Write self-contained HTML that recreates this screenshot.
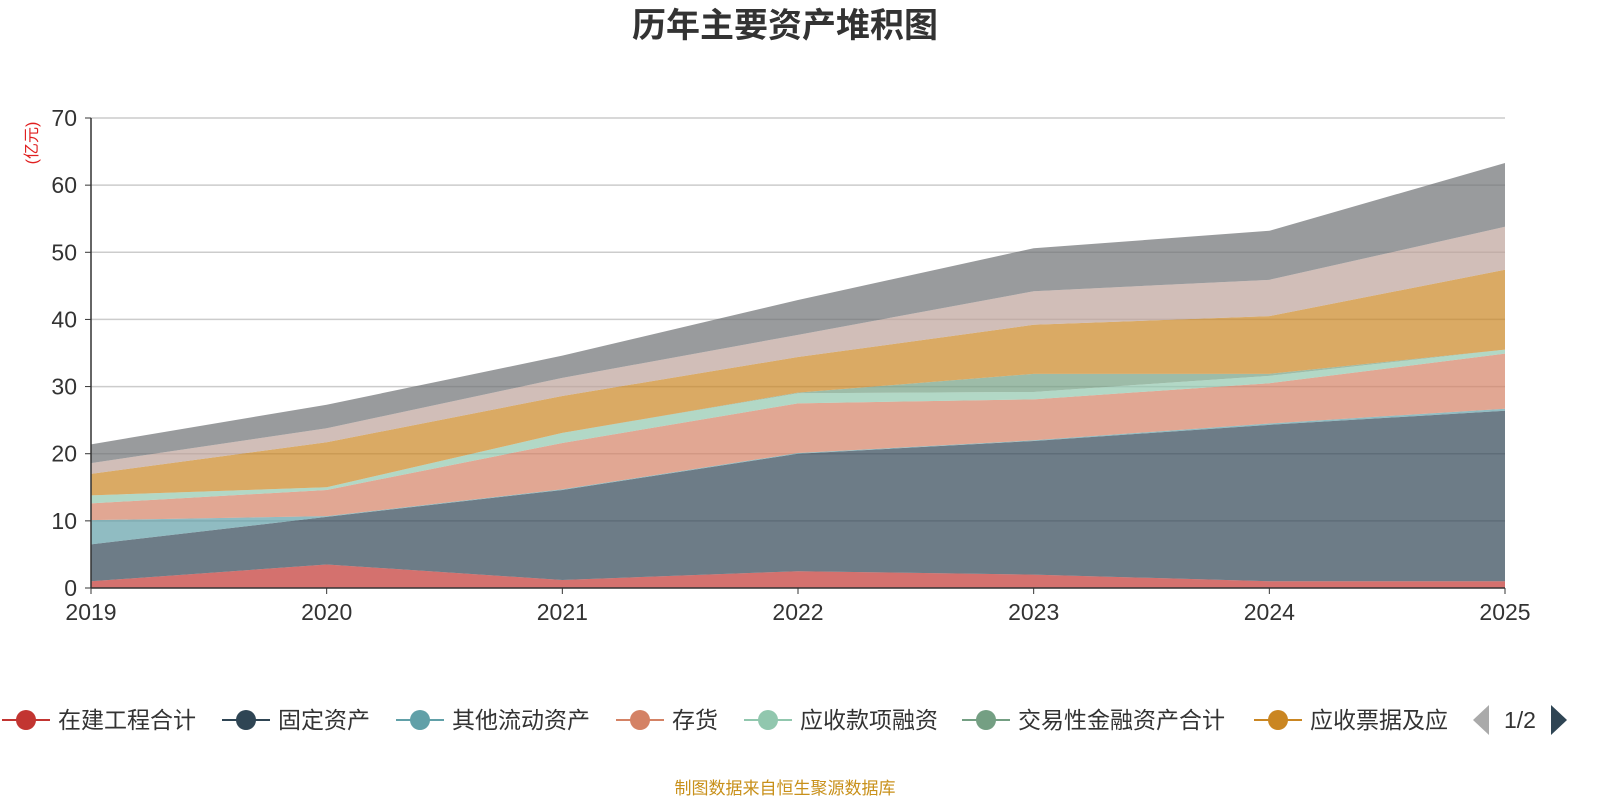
<!DOCTYPE html>
<html><head><meta charset="utf-8">
<style>
body{margin:0;background:#fff;width:1600px;height:800px;overflow:hidden;font-family:"Liberation Sans","Noto Sans CJK SC",sans-serif;}
svg text{font-family:"Liberation Sans","Noto Sans CJK SC",sans-serif;}
</style></head>
<body>
<svg id="chart" width="1600" height="800">
<text x="785" y="37" text-anchor="middle" font-size="34" font-weight="bold" fill="#333">历年主要资产堆积图</text>
<text transform="translate(37,143) rotate(-90)" text-anchor="middle" font-size="16" fill="#e02020">(亿元)</text>
<g id="grid"></g><g id="areas"></g><g id="axes"></g><g id="legend"></g>
<text x="785" y="794" text-anchor="middle" font-size="17" fill="#c8901a">制图数据来自恒生聚源数据库</text>
</svg>
<script>
const years=['2019','2020','2021','2022','2023','2024','2025'];
const yTicks=[0,10,20,30,40,50,60,70];
const seriesNames=['在建工程合计','固定资产','其他流动资产','存货','应收款项融资','交易性金融资产合计','应收票据及应','应收账款','货币资金'];
const sConstruction=[1.0,3.5,1.2,2.5,2.0,1.0,1.0];
const sFixed=[5.5,7.1,13.4,17.5,19.9,23.3,25.4];
const sOtherCurrent=[3.6,0.1,0.1,0.1,0.1,0.2,0.3];
const sInventory=[2.5,3.9,6.9,7.4,6.1,6.0,8.2];
const sRecFinancing=[1.2,0.4,1.5,1.5,1.1,1.1,0.6];
const sTrading=[0,0,0,0.1,2.7,0.3,0];
const sNotes=[3.2,6.7,5.5,5.3,7.3,8.6,11.9];
const sReceivable=[1.6,2.1,2.7,3.3,5.0,5.4,6.4];
const sCash=[2.8,3.5,3.3,5.2,6.4,7.3,9.5];
const allSeries=[sConstruction,sFixed,sOtherCurrent,sInventory,sRecFinancing,sTrading,sNotes,sReceivable,sCash];
const colors=['#c23531','#2f4554','#61a0a8','#d48265','#91c7ae','#749f83','#ca8622','#bda29a','#6e7074'];
const NS='http://www.w3.org/2000/svg';
const X0=91,X1=1505,Y0=588,Y1=118,YMAX=70;
const xS=i=>X0+(X1-X0)*i/(years.length-1);
const yS=v=>Y0-(Y0-Y1)*v/YMAX;
function mk(tag,attrs,parent){const e=document.createElementNS(NS,tag);for(const k in attrs)e.setAttribute(k,attrs[k]);parent.appendChild(e);return e;}
const grid=document.getElementById('grid'),axes=document.getElementById('axes'),areas=document.getElementById('areas'),legend=document.getElementById('legend');
yTicks.forEach(t=>{
 if(t>0){const l=mk('line',{x1:X0,x2:X1,y1:yS(t),y2:yS(t),stroke:'#ccc','stroke-width':1.5},grid);
 
 }
 const tk=mk('line',{x1:X0-6,x2:X0,y1:yS(t),y2:yS(t),stroke:'#333'},axes);
 
 
 const tx=mk('text',{x:X0-14,y:yS(t)+8,'text-anchor':'end','font-size':23,fill:'#333'},axes);tx.textContent=t;
 
 
});
let base=years.map(()=>0);
allSeries.forEach((s,si)=>{
 const top=base.map((b,i)=>b+s[i]);
 let d='M'+years.map((y,i)=>xS(i)+','+yS(top[i])).join('L');
 for(let i=years.length-1;i>=0;i--)d+='L'+xS(i)+','+yS(base[i]);
 const p=mk('path',{d:d+'Z',fill:colors[si],'fill-opacity':0.7,stroke:'none'},areas);
 
 
 base=top;
});
const ya=mk('line',{x1:X0,x2:X0,y1:Y1,y2:Y0,stroke:'#333','stroke-width':1.5},axes);


const xa=mk('line',{x1:X0,x2:X1,y1:Y0,y2:Y0,stroke:'#333','stroke-width':1.5},axes);


years.forEach((y,i)=>{
 const tk=mk('line',{x1:xS(i),x2:xS(i),y1:Y0,y2:Y0+6,stroke:'#333'},axes);
 
 
 const tx=mk('text',{x:xS(i),y:620,'text-anchor':'middle','font-size':23,fill:'#333'},axes);tx.textContent=y;
 
 
});
const legX=[2,222,396,616,744,962,1254];
for(let i=0;i<7;i++){
 const g=mk('g',{},legend);
 
 
 const x=legX[i];
 mk('line',{x1:x,x2:x+48,y1:720,y2:720,stroke:colors[i],'stroke-width':2},g);
 mk('circle',{cx:x+24,cy:720,r:10,fill:colors[i]},g);
 const t=mk('text',{x:x+56,y:728,'font-size':23,fill:'#333'},g);t.textContent=seriesNames[i];
}
const pl=mk('path',{d:'M1489,705L1473,720L1489,735Z',fill:'#aaa'},legend);


const pt=mk('text',{x:1520,y:728,'text-anchor':'middle','font-size':23,fill:'#333'},legend);pt.textContent='1/2';


const pn=mk('path',{d:'M1551,705L1567,720L1551,735Z',fill:'#2f4554'},legend);


</script>
</body></html>
